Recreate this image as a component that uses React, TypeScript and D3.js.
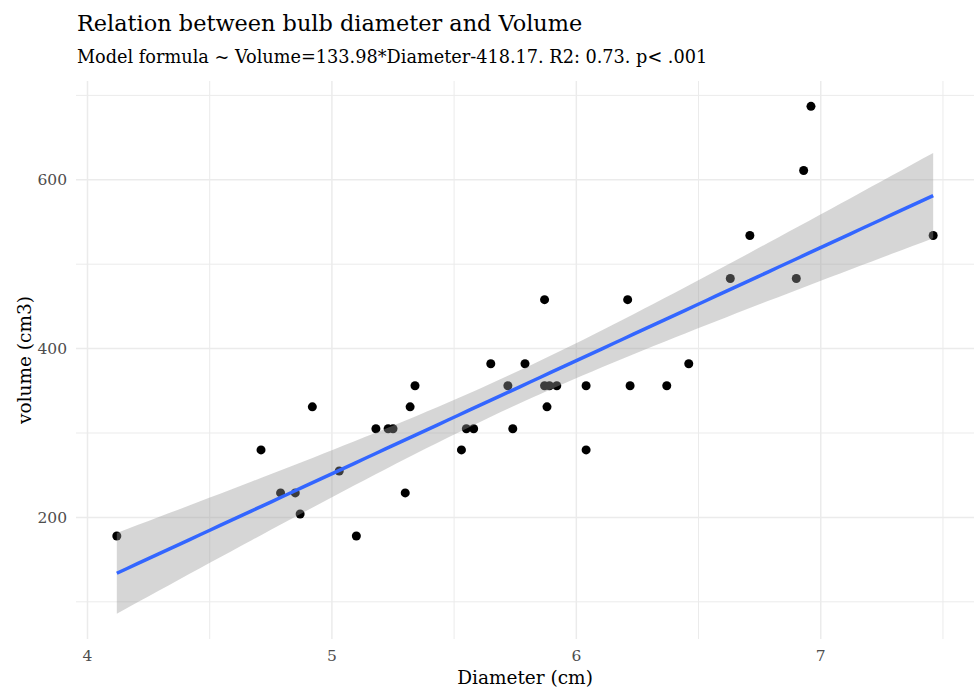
import React from 'react';
import * as d3 from 'd3';

// bulb diameter (cm) and volume (cm3)
const diameter = [
  4.12, 4.71, 4.79, 4.85, 4.87, 4.92, 5.03, 5.1, 5.18, 5.23, 5.25, 5.3, 5.32,
  5.34, 5.53, 5.55, 5.58, 5.65, 5.72, 5.74, 5.79, 5.87, 5.87, 5.89, 5.92, 5.88,
  6.04, 6.04, 6.21, 6.22, 6.37, 6.46, 6.63, 6.71, 6.9, 6.93, 6.96, 7.46,
];
const volume = [
  178, 280, 229, 229, 204, 331, 255, 178, 305, 305, 305, 229, 331,
  356, 280, 305, 305, 382, 356, 305, 382, 458, 356, 356, 356, 331,
  356, 280, 458, 356, 356, 382, 483, 534, 483, 611, 687, 534,
];
const xTicks = [4, 5, 6, 7];
const xMinor = [4.5, 5.5, 6.5, 7.5];
const yTicks = [200, 400, 600];
const yMinor = [100, 300, 500, 700];

// model coefficients as printed in the subtitle
const slope = 133.98;
const intercept = -418.17;

const title = 'Relation between bulb diameter and Volume';
const subtitle = 'Model formula ~ Volume=133.98*Diameter-418.17. R2: 0.73. p< .001';
const xLabel = 'Diameter (cm)';
const yLabel = 'volume (cm3)';

const W = 974;
const H = 689;
const panel = { left: 76, right: 974, top: 81, bottom: 639 };
const FONT = '"DejaVu Serif", serif';
const T_CRIT = 2.028; // t(0.975, df = 36)

export default function App() {
  const n = diameter.length;
  const xbar = d3.mean(diameter) as number;
  const sxx = d3.sum(diameter, (x) => (x - xbar) ** 2);
  const sse = d3.sum(diameter, (x, i) => (volume[i] - (intercept + slope * x)) ** 2);
  const s = Math.sqrt(sse / (n - 2));

  const [xmin, xmax] = d3.extent(diameter) as [number, number];
  const fit = d3.range(80).map((i) => {
    const x = xmin + ((xmax - xmin) * i) / 79;
    const yhat = intercept + slope * x;
    const se = s * Math.sqrt(1 / n + (x - xbar) ** 2 / sxx);
    return { x, y: yhat, lo: yhat - T_CRIT * se, hi: yhat + T_CRIT * se };
  });

  // ggplot-style 5% expansion
  const xPad = (xmax - xmin) * 0.05;
  const yLo = Math.min(d3.min(volume) as number, d3.min(fit, (d) => d.lo) as number);
  const yHi = Math.max(d3.max(volume) as number, d3.max(fit, (d) => d.hi) as number);
  const yPad = (yHi - yLo) * 0.05;

  const x = d3.scaleLinear().domain([xmin - xPad, xmax + xPad]).range([panel.left, panel.right]);
  const y = d3.scaleLinear().domain([yLo - yPad, yHi + yPad]).range([panel.bottom, panel.top]);

  const area = d3
    .area<(typeof fit)[number]>()
    .x((d) => x(d.x))
    .y0((d) => y(d.lo))
    .y1((d) => y(d.hi));
  const line = d3
    .line<(typeof fit)[number]>()
    .x((d) => x(d.x))
    .y((d) => y(d.y));

  const grid = '#ebebeb';

  return (
    <svg
      width={W}
      height={H}
      style={{ position: 'fixed', left: 0, top: 0, background: '#fff' }}
      fontFamily={FONT}
    >
      {/* minor grid */}
      {xMinor.map((t) => (
        <line key={'xm' + t} x1={x(t)} x2={x(t)} y1={panel.top} y2={panel.bottom} stroke={grid} strokeWidth={1} />
      ))}
      {yMinor.map((t) => (
        <line key={'ym' + t} x1={panel.left} x2={panel.right} y1={y(t)} y2={y(t)} stroke={grid} strokeWidth={1} />
      ))}
      {/* major grid */}
      {xTicks.map((t) => (
        <line key={'xM' + t} x1={x(t)} x2={x(t)} y1={panel.top} y2={panel.bottom} stroke={grid} strokeWidth={1.5} />
      ))}
      {yTicks.map((t) => (
        <line key={'yM' + t} x1={panel.left} x2={panel.right} y1={y(t)} y2={y(t)} stroke={grid} strokeWidth={1.5} />
      ))}

      {/* points */}
      {diameter.map((d, i) => (
        <circle key={i} cx={x(d)} cy={y(volume[i])} r={4.5} fill="#000" />
      ))}

      {/* smooth */}
      <path d={area(fit) ?? ''} fill="#999999" fillOpacity={0.4} />
      <path d={line(fit) ?? ''} fill="none" stroke="#3366FF" strokeWidth={3.5} />

      {/* tick labels */}
      {xTicks.map((t) => (
        <text key={'xl' + t} x={x(t)} y={661} textAnchor="middle" fontSize={15.5} fill="#4d4d4d">
          {t}
        </text>
      ))}
      {yTicks.map((t) => (
        <text key={'yl' + t} x={67} y={y(t)} dy="0.35em" textAnchor="end" fontSize={15.5} fill="#4d4d4d">
          {t}
        </text>
      ))}

      {/* axis titles */}
      <text x={(panel.left + panel.right) / 2} y={684} textAnchor="middle" fontSize={18.5} fill="#000">
        {xLabel}
      </text>
      <text
        transform={`translate(31,${(panel.top + panel.bottom) / 2}) rotate(-90)`}
        textAnchor="middle"
        fontSize={18.5}
        fill="#000"
      >
        {yLabel}
      </text>

      {/* titles */}
      <text x={77} y={31} fontSize={22.4} fill="#000">
        {title}
      </text>
      <text x={77} y={63} fontSize={17.7} fill="#000">
        {subtitle}
      </text>
    </svg>
  );
}
